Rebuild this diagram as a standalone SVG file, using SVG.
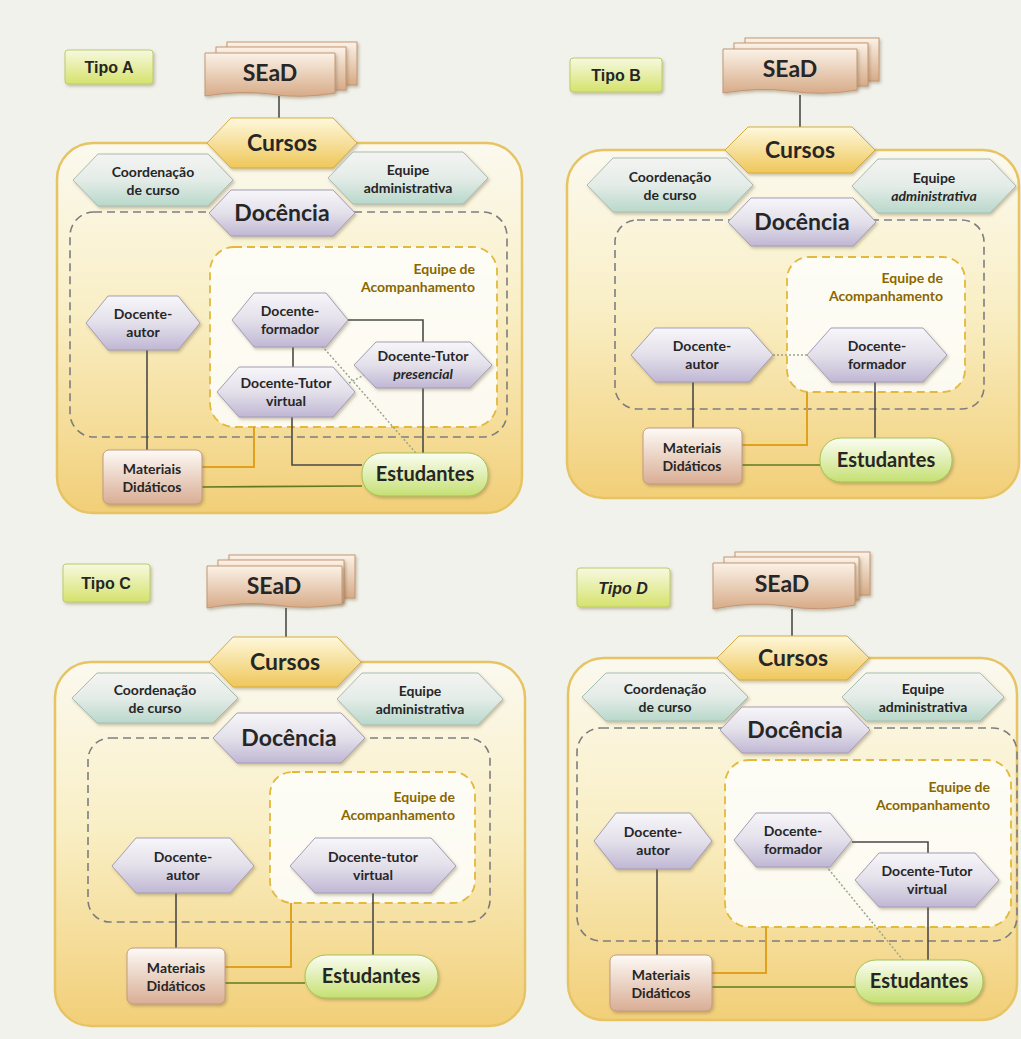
<svg xmlns="http://www.w3.org/2000/svg" width="1021" height="1039" viewBox="0 0 1021 1039">
<defs>
<linearGradient id="gOuter" x1="0" y1="0" x2="0" y2="1">
<stop offset="0" stop-color="#fbf9ef"/><stop offset="0.45" stop-color="#f9efc6"/><stop offset="1" stop-color="#f2cf78"/>
</linearGradient>
<linearGradient id="gTipo" x1="0" y1="0" x2="0" y2="1">
<stop offset="0" stop-color="#f7f9e0"/><stop offset="1" stop-color="#d5e26c"/>
</linearGradient>
<linearGradient id="gSead" x1="0" y1="0" x2="0" y2="1">
<stop offset="0" stop-color="#fbf2e7"/><stop offset="1" stop-color="#d7ab88"/>
</linearGradient>
<linearGradient id="gCursos" x1="0" y1="0" x2="0" y2="1">
<stop offset="0" stop-color="#fef8dc"/><stop offset="1" stop-color="#efc75a"/>
</linearGradient>
<linearGradient id="gTeal" x1="0" y1="0" x2="0" y2="1">
<stop offset="0" stop-color="#f4f4f2"/><stop offset="0.5" stop-color="#e4ece8"/><stop offset="1" stop-color="#b8d8ca"/>
</linearGradient>
<linearGradient id="gPurple" x1="0" y1="0" x2="0" y2="1">
<stop offset="0" stop-color="#f7f6f9"/><stop offset="0.5" stop-color="#e3e0ea"/><stop offset="1" stop-color="#c0b7d4"/>
</linearGradient>
<linearGradient id="gMat" x1="0" y1="0" x2="0" y2="1">
<stop offset="0" stop-color="#fdfaf6"/><stop offset="1" stop-color="#d9ad94"/>
</linearGradient>
<linearGradient id="gEst" x1="0" y1="0" x2="0" y2="1">
<stop offset="0" stop-color="#fbfdf3"/><stop offset="1" stop-color="#c5e072"/>
</linearGradient>
<filter id="sh" x="-10%" y="-10%" width="125%" height="135%">
<feDropShadow dx="1.5" dy="2" stdDeviation="1.5" flood-color="#6b5a30" flood-opacity="0.35"/>
</filter>
<style>
.outer{fill:url(#gOuter);stroke:#e7c463;stroke-width:2.5}
.doc{fill:none;stroke:#7d7d80;stroke-width:1.6;stroke-dasharray:8 5}
.acomp{fill:#fdfdf8;fill-opacity:0.9;stroke:#e2b93c;stroke-width:1.8;stroke-dasharray:8 5}
.tipo{fill:url(#gTipo);stroke:#bccb6a;stroke-width:1;filter:url(#sh)}
.sead{fill:url(#gSead);stroke:#c39673;stroke-width:1;filter:url(#sh)}
.cursos{fill:url(#gCursos);stroke:#d5ab44;stroke-width:1;filter:url(#sh)}
.teal{fill:url(#gTeal);stroke:#a7bcb4;stroke-width:1;filter:url(#sh)}
.purple{fill:url(#gPurple);stroke:#a39db6;stroke-width:1;filter:url(#sh)}
.mat{fill:url(#gMat);stroke:#c29a83;stroke-width:1;filter:url(#sh)}
.est{fill:url(#gEst);stroke:#a3c355;stroke-width:1;filter:url(#sh)}
.ln{fill:none;stroke:#4a4a48;stroke-width:1.6}
.or{fill:none;stroke:#e0a21e;stroke-width:2}
.gr{fill:none;stroke:#5f7a22;stroke-width:1.6}
.dt{fill:none;stroke:#9aa58c;stroke-width:1.5;stroke-dasharray:2 2}
text{font-family:Lato,"Open Sans","Liberation Sans",sans-serif;font-weight:bold;fill:#262626;text-anchor:middle}
.t13{font-size:14px}
.big{font-size:23px}
.est-t{font-size:20px}
.tipo-t{font-family:"Liberation Sans",Arial,sans-serif;font-size:16px}
.ac{font-size:14px;fill:#8a6700;text-anchor:end}
.it{font-style:italic}
</style>
</defs>
<rect x="0" y="0" width="1021" height="1039" fill="#f2f2ec"/>

<!-- ================= PANEL A ================= -->
<g id="panelA">
<rect class="outer" x="57" y="143" width="465" height="370" rx="36"/>
<rect class="doc" x="70" y="212" width="437" height="225" rx="24"/>
<rect class="acomp" x="210" y="247" width="287" height="180" rx="24"/>
<text class="ac" x="475" y="274">Equipe de</text>
<text class="ac" x="475" y="292">Acompanhamento</text>
<g id="A-connectors">
<line class="ln" x1="279" y1="96" x2="279" y2="120"/>
<line class="ln" x1="147" y1="350" x2="147" y2="450"/>
<line class="ln" x1="293" y1="347" x2="293" y2="367"/>
<polyline class="ln" points="348,320 423,320 423,342"/>
<line class="ln" x1="423" y1="388" x2="423" y2="453"/>
<polyline class="ln" points="292,417 292,465 362,465"/>
<polyline class="or" points="254,427 254,467 202,467"/>
<line class="gr" x1="202" y1="487" x2="362" y2="486"/>
<line class="dt" x1="322" y1="346" x2="416" y2="453"/>
<line class="dt" x1="349" y1="383" x2="366" y2="374"/>
</g>
<g id="A-tipo"><rect class="tipo" x="65" y="50" width="88" height="34" rx="3"/><text class="tipo-t" x="109" y="73">Tipo A</text></g>
<g id="A-sead">
<rect class="sead" x="227" y="42" width="130" height="43"/>
<rect class="sead" x="216" y="47" width="130" height="43"/>
<path class="sead" d="M205,53 H335 V93 Q300,99 270,94 Q240,90 205,96 Z"/>
<text class="big" x="270" y="81">SEaD</text>
</g>
<g id="A-cursos"><polygon class="cursos" points="207,143 231,118 333,118 357,143 333,168 231,168"/><text class="big" x="282" y="151">Cursos</text></g>
<g id="A-coord"><polygon class="teal" points="73,180 98,154 208,154 233,180 208,206 98,206"/><text class="t13" x="153" y="177">Coordenação</text><text class="t13" x="153" y="195">de curso</text></g>
<g id="A-eqadm"><polygon class="teal" points="328,178 353,152 463,152 488,178 463,204 353,204"/><text class="t13" x="408" y="175">Equipe</text><text class="t13" x="408" y="193">administrativa</text></g>
<g id="A-docencia"><polygon class="purple" points="209,213 231,190 333,190 355,213 333,236 231,236"/><text class="big" x="282" y="221">Docência</text></g>
<g id="A-autor"><polygon class="purple" points="86,323 108,296 178,296 200,323 178,350 108,350"/><text class="t13" x="143" y="319">Docente-</text><text class="t13" x="143" y="337">autor</text></g>
<g id="A-formador"><polygon class="purple" points="232,320 254,293 326,293 348,320 326,347 254,347"/><text class="t13" x="290" y="316">Docente-</text><text class="t13" x="290" y="334">formador</text></g>
<g id="A-presencial"><polygon class="purple" points="354,365 376,342 470,342 492,365 470,388 376,388"/><text class="t13" x="423" y="361">Docente-Tutor</text><text class="t13 it" x="423" y="379">presencial</text></g>
<g id="A-virtual"><polygon class="purple" points="217,392 239,367 333,367 355,392 333,417 239,417"/><text class="t13" x="286" y="388">Docente-Tutor</text><text class="t13" x="286" y="406">virtual</text></g>
<g id="A-materiais"><rect class="mat" x="103" y="450" width="99" height="54" rx="6"/><text class="t13" x="152" y="474">Materiais</text><text class="t13" x="152" y="492">Didáticos</text></g>
<g id="A-estudantes"><rect class="est" x="362" y="453" width="126" height="43" rx="20"/><text class="est-t" x="425" y="481">Estudantes</text></g>
</g>

<!-- ================= PANEL B ================= -->
<g id="panelB">
<rect class="outer" x="567" y="150" width="452" height="348" rx="36"/>
<rect class="doc" x="615" y="220" width="369" height="189" rx="22"/>
<rect class="acomp" x="787" y="257" width="178" height="135" rx="22"/>
<text class="ac" x="943" y="283">Equipe de</text>
<text class="ac" x="943" y="301">Acompanhamento</text>
<g id="B-connectors">
<line class="ln" x1="800" y1="95" x2="800" y2="128"/>
<line class="ln" x1="693" y1="382" x2="693" y2="428"/>
<line class="ln" x1="875" y1="382" x2="875" y2="438"/>
<polyline class="or" points="807,392 807,445 742,445"/>
<line class="gr" x1="742" y1="465" x2="820" y2="465"/>
<line class="dt" x1="773" y1="355" x2="807" y2="355"/>
</g>
<g id="B-tipo"><rect class="tipo" x="570" y="58" width="92" height="34" rx="3"/><text class="tipo-t" x="616" y="81">Tipo B</text></g>
<g id="B-sead">
<rect class="sead" x="745" y="38" width="134" height="43"/>
<rect class="sead" x="734" y="43" width="134" height="43"/>
<path class="sead" d="M723,49 H857 V90 Q822,96 790,91 Q758,87 723,93 Z"/>
<text class="big" x="790" y="77">SEaD</text>
</g>
<g id="B-cursos"><polygon class="cursos" points="725,150 748,127 852,127 875,150 852,173 748,173"/><text class="big" x="800" y="158">Cursos</text></g>
<g id="B-coord"><polygon class="teal" points="587,185 613,158 727,158 753,185 727,212 613,212"/><text class="t13" x="670" y="182">Coordenação</text><text class="t13" x="670" y="200">de curso</text></g>
<g id="B-eqadm"><polygon class="teal" points="852,186 878,159 990,159 1016,186 990,213 878,213"/><text class="t13" x="934" y="183">Equipe</text><text class="t13 it" x="934" y="201">administrativa</text></g>
<g id="B-docencia"><polygon class="purple" points="728,222 751,198 853,198 876,222 853,246 751,246"/><text class="big" x="802" y="230">Docência</text></g>
<g id="B-autor"><polygon class="purple" points="631,355 655,328 749,328 773,355 749,382 655,382"/><text class="t13" x="702" y="351">Docente-</text><text class="t13" x="702" y="369">autor</text></g>
<g id="B-formador"><polygon class="purple" points="807,355 831,328 923,328 947,355 923,382 831,382"/><text class="t13" x="877" y="351">Docente-</text><text class="t13" x="877" y="369">formador</text></g>
<g id="B-materiais"><rect class="mat" x="643" y="428" width="99" height="56" rx="6"/><text class="t13" x="692" y="453">Materiais</text><text class="t13" x="692" y="471">Didáticos</text></g>
<g id="B-estudantes"><rect class="est" x="820" y="438" width="132" height="44" rx="21"/><text class="est-t" x="886" y="467">Estudantes</text></g>
</g>

<!-- ================= PANEL C ================= -->
<g id="panelC">
<rect class="outer" x="55" y="662" width="470" height="364" rx="36"/>
<rect class="doc" x="88" y="738" width="402" height="184" rx="22"/>
<rect class="acomp" x="270" y="772" width="205" height="131" rx="22"/>
<text class="ac" x="455" y="802">Equipe de</text>
<text class="ac" x="455" y="820">Acompanhamento</text>
<g id="C-connectors">
<line class="ln" x1="286" y1="608" x2="286" y2="638"/>
<line class="ln" x1="176" y1="893" x2="176" y2="948"/>
<line class="ln" x1="373" y1="893" x2="373" y2="955"/>
<polyline class="or" points="291,903 291,967 225,967"/>
<line class="gr" x1="225" y1="983" x2="305" y2="983"/>
</g>
<g id="C-tipo"><rect class="tipo" x="63" y="564" width="87" height="38" rx="3"/><text class="tipo-t" x="106" y="589">Tipo C</text></g>
<g id="C-sead">
<rect class="sead" x="229" y="555" width="126" height="43"/>
<rect class="sead" x="218" y="560" width="126" height="43"/>
<path class="sead" d="M207,566 H342 V604 Q307,610 275,605 Q243,601 207,608 Z"/>
<text class="big" x="274" y="594">SEaD</text>
</g>
<g id="C-cursos"><polygon class="cursos" points="209,662 233,637 337,637 361,662 337,687 233,687"/><text class="big" x="285" y="670">Cursos</text></g>
<g id="C-coord"><polygon class="teal" points="72,698 97,673 213,673 238,698 213,723 97,723"/><text class="t13" x="155" y="695">Coordenação</text><text class="t13" x="155" y="713">de curso</text></g>
<g id="C-eqadm"><polygon class="teal" points="337,699 362,673 478,673 503,699 478,725 362,725"/><text class="t13" x="420" y="696">Equipe</text><text class="t13" x="420" y="714">administrativa</text></g>
<g id="C-docencia"><polygon class="purple" points="213,738 237,713 341,713 365,738 341,763 237,763"/><text class="big" x="289" y="746">Docência</text></g>
<g id="C-autor"><polygon class="purple" points="112,866 136,838 230,838 254,866 230,893 136,893"/><text class="t13" x="183" y="862">Docente-</text><text class="t13" x="183" y="880">autor</text></g>
<g id="C-virtual"><polygon class="purple" points="290,866 315,838 431,838 456,866 431,893 315,893"/><text class="t13" x="373" y="862">Docente-tutor</text><text class="t13" x="373" y="880">virtual</text></g>
<g id="C-materiais"><rect class="mat" x="127" y="948" width="98" height="56" rx="6"/><text class="t13" x="176" y="973">Materiais</text><text class="t13" x="176" y="991">Didáticos</text></g>
<g id="C-estudantes"><rect class="est" x="305" y="955" width="133" height="43" rx="21"/><text class="est-t" x="371" y="983">Estudantes</text></g>
</g>

<!-- ================= PANEL D ================= -->
<g id="panelD">
<rect class="outer" x="568" y="658" width="449" height="362" rx="36"/>
<rect class="doc" x="577" y="728" width="440" height="213" rx="24"/>
<rect class="acomp" x="725" y="760" width="286" height="167" rx="24"/>
<text class="ac" x="990" y="792">Equipe de</text>
<text class="ac" x="990" y="810">Acompanhamento</text>
<g id="D-connectors">
<line class="ln" x1="792" y1="609" x2="792" y2="637"/>
<line class="ln" x1="657" y1="869" x2="657" y2="955"/>
<polyline class="ln" points="852,842 928,842 928,853"/>
<line class="ln" x1="928" y1="907" x2="928" y2="960"/>
<polyline class="or" points="766,927 766,973 712,973"/>
<line class="gr" x1="712" y1="987" x2="855" y2="987"/>
<line class="dt" x1="826" y1="866" x2="903" y2="960"/>
</g>
<g id="D-tipo"><rect class="tipo" x="577" y="568" width="93" height="39" rx="3"/><text class="tipo-t it" x="623" y="594">Tipo D</text></g>
<g id="D-sead">
<rect class="sead" x="735" y="552" width="135" height="43"/>
<rect class="sead" x="724" y="557" width="135" height="43"/>
<path class="sead" d="M713,563 H855 V605 Q819,612 786,606 Q752,601 713,609 Z"/>
<text class="big" x="782" y="592">SEaD</text>
</g>
<g id="D-cursos"><polygon class="cursos" points="717,658 739,636 847,636 869,658 847,680 739,680"/><text class="big" x="793" y="666">Cursos</text></g>
<g id="D-coord"><polygon class="teal" points="582,697 606,673 724,673 748,697 724,721 606,721"/><text class="t13" x="665" y="694">Coordenação</text><text class="t13" x="665" y="712">de curso</text></g>
<g id="D-eqadm"><polygon class="teal" points="842,697 866,673 980,673 1004,697 980,721 866,721"/><text class="t13" x="923" y="694">Equipe</text><text class="t13" x="923" y="712">administrativa</text></g>
<g id="D-docencia"><polygon class="purple" points="720,730 742,707 848,707 870,730 848,753 742,753"/><text class="big" x="795" y="738">Docência</text></g>
<g id="D-autor"><polygon class="purple" points="594,841 616,813 690,813 712,841 690,869 616,869"/><text class="t13" x="653" y="837">Docente-</text><text class="t13" x="653" y="855">autor</text></g>
<g id="D-formador"><polygon class="purple" points="734,840 756,813 830,813 852,840 830,867 756,867"/><text class="t13" x="793" y="836">Docente-</text><text class="t13" x="793" y="854">formador</text></g>
<g id="D-virtual"><polygon class="purple" points="855,880 879,853 975,853 999,880 975,907 879,907"/><text class="t13" x="927" y="876">Docente-Tutor</text><text class="t13" x="927" y="894">virtual</text></g>
<g id="D-materiais"><rect class="mat" x="610" y="955" width="102" height="56" rx="6"/><text class="t13" x="661" y="980">Materiais</text><text class="t13" x="661" y="998">Didáticos</text></g>
<g id="D-estudantes"><rect class="est" x="855" y="960" width="128" height="43" rx="21"/><text class="est-t" x="919" y="988">Estudantes</text></g>
</g>
</svg>
